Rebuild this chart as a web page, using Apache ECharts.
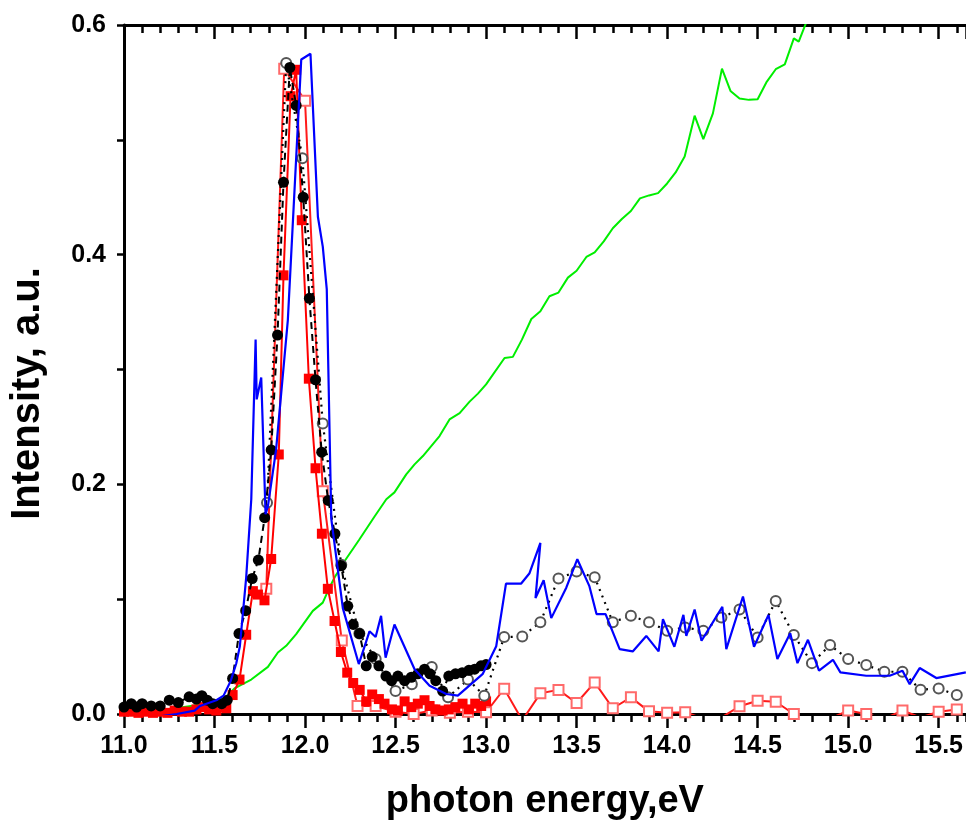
<!DOCTYPE html>
<html>
<head>
<meta charset="utf-8">
<script src="https://cdn.jsdelivr.net/npm/echarts@6/dist/echarts.min.js"></script>
<style>html,body{margin:0;padding:0;background:#fff}#c{width:966px;height:826px}</style>
</head>
<body>
<div id="c"></div>
<script>
// ---- data ----
const blackFilledX = [11.00,11.04,11.07,11.10,11.15,11.20,11.25,11.30,11.36,11.40,11.43,11.46,11.49,11.54,11.57,11.60,11.635,11.672,11.708,11.742,11.777,11.813,11.848,11.881,11.916,11.951,11.990,12.024,12.058,12.092,12.128,12.165,12.200,12.236,12.266,12.301,12.338,12.371,12.408,12.447,12.478,12.513,12.550,12.587,12.623,12.660,12.690,12.722,12.760,12.794,12.831,12.868,12.905,12.937,12.972,13.000];
const blackFilledY = [0.006,0.009,0.006,0.009,0.007,0.007,0.012,0.010,0.015,0.013,0.016,0.012,0.009,0.009,0.012,0.031,0.070,0.090,0.118,0.134,0.171,0.230,0.330,0.463,0.563,0.530,0.450,0.362,0.291,0.228,0.186,0.157,0.129,0.094,0.078,0.070,0.042,0.050,0.042,0.033,0.029,0.033,0.029,0.032,0.035,0.039,0.035,0.029,0.020,0.033,0.035,0.036,0.038,0.039,0.042,0.043];

const blackOpenX = [11.79,11.896,11.985,12.098,12.20,12.30,12.39,12.50,12.59,12.70,12.79,12.90,12.99,13.10,13.20,13.30,13.40,13.50,13.60,13.70,13.80,13.90,14.00,14.10,14.20,14.30,14.40,14.50,14.60,14.70,14.80,14.90,15.00,15.10,15.20,15.30,15.40,15.50,15.60];
const blackOpenY = [0.184,0.567,0.484,0.253,0.130,0.070,0.048,0.020,0.026,0.041,0.0145,0.030,0.016,0.067,0.0675,0.080,0.118,0.124,0.119,0.080,0.0855,0.080,0.0725,0.0754,0.0725,0.084,0.091,0.0667,0.0985,0.0687,0.0443,0.060,0.0478,0.0426,0.0368,0.0368,0.0211,0.0223,0.0165];

const redFilledX = [11.00,11.04,11.08,11.12,11.16,11.20,11.24,11.28,11.32,11.36,11.40,11.44,11.47,11.51,11.54,11.565,11.60,11.638,11.675,11.712,11.740,11.776,11.813,11.855,11.881,11.920,11.951,11.982,12.021,12.058,12.093,12.126,12.163,12.198,12.233,12.266,12.302,12.338,12.371,12.408,12.439,12.480,12.513,12.550,12.587,12.623,12.660,12.688,12.720,12.760,12.794,12.830,12.870,12.905,12.940,12.973,13.000];
const redFilledY = [0.002,0.002,0.001,0.002,0.001,0.002,0.001,0.003,0.002,0.002,0.004,0.006,0.004,0.003,0.006,0.005,0.0165,0.030,0.069,0.107,0.104,0.099,0.135,0.226,0.382,0.538,0.561,0.430,0.292,0.214,0.157,0.109,0.081,0.054,0.036,0.027,0.021,0.011,0.017,0.013,0.009,0.004,0.003,0.011,0.006,0.009,0.012,0.007,0.004,0.003,0.004,0.006,0.009,0.004,0.009,0.007,0.011];

const redOpenX = [11.786,11.885,12.00,12.098,12.203,12.29,12.39,12.50,12.60,12.70,12.80,12.90,13.00,13.10,13.20,13.30,13.40,13.50,13.60,13.70,13.80,13.90,14.00,14.10,14.20,14.30,14.40,14.50,14.60,14.70,14.80,14.90,15.00,15.10,15.20,15.30,15.40,15.50,15.60];
const redOpenY = [0.109,0.562,0.534,0.194,0.064,0.007,0.007,0.002,0.000,0.003,0.001,0.002,0.0015,0.022,-0.0055,0.018,0.021,0.0096,0.0275,0.005,0.0145,0.0023,0.001,0.0015,-0.004,-0.003,0.0067,0.0116,0.0107,0.000,-0.005,-0.004,0.003,0.000,-0.004,0.003,-0.003,0.002,0.004];

const blueX = [11.00,11.10,11.20,11.29,11.39,11.42,11.51,11.55,11.59,11.62,11.64,11.675,11.703,11.727,11.733,11.758,11.782,11.795,11.84,11.905,11.979,12.030,12.071,12.098,12.120,12.145,12.209,12.297,12.356,12.39,12.42,12.445,12.494,12.605,12.688,12.78,12.844,12.982,13.056,13.11,13.194,13.24,13.30,13.273,13.318,13.36,13.443,13.504,13.57,13.61,13.66,13.738,13.81,13.885,13.953,13.977,14.04,14.09,14.106,14.152,14.19,14.305,14.327,14.419,14.48,14.56,14.609,14.68,14.72,14.778,14.839,14.916,14.957,15.10,15.229,15.30,15.34,15.395,15.487,15.65];
const blueY = [-0.004,-0.003,-0.002,0.000,0.003,0.007,0.012,0.016,0.029,0.044,0.059,0.119,0.187,0.326,0.274,0.293,0.174,0.181,0.230,0.343,0.570,0.575,0.433,0.407,0.370,0.170,0.092,0.0435,0.072,0.067,0.0855,0.049,0.078,0.039,0.0246,0.0174,0.016,0.035,0.059,0.1136,0.1136,0.1226,0.149,0.101,0.1165,0.0835,0.110,0.1348,0.1116,0.087,0.087,0.0565,0.0545,0.068,0.0545,0.0826,0.0585,0.0863,0.068,0.091,0.0638,0.0933,0.0565,0.1023,0.0585,0.0863,0.0478,0.0704,0.0443,0.0646,0.0377,0.0472,0.0362,0.0333,0.0333,0.0377,0.026,0.040,0.0313,0.0362];

const greenX = [11.00,11.196,11.38,11.47,11.555,11.61,11.703,11.795,11.85,11.896,11.951,12.043,12.098,12.135,12.163,12.218,12.30,12.384,12.449,12.494,12.559,12.605,12.651,12.743,12.798,12.854,12.909,12.955,13.00,13.102,13.148,13.198,13.25,13.30,13.35,13.40,13.452,13.50,13.554,13.60,13.65,13.70,13.75,13.80,13.85,13.90,13.95,14.00,14.047,14.097,14.152,14.20,14.253,14.303,14.35,14.40,14.452,14.50,14.548,14.60,14.65,14.70,14.727,14.80];
const greenY = [0.000,0.003,0.0072,0.010,0.0136,0.0223,0.030,0.041,0.0536,0.0594,0.0696,0.0898,0.097,0.110,0.1189,0.133,0.152,0.172,0.187,0.193,0.2087,0.2174,0.2246,0.242,0.2565,0.262,0.272,0.279,0.287,0.310,0.311,0.326,0.344,0.3507,0.3638,0.367,0.380,0.386,0.398,0.402,0.4116,0.423,0.431,0.438,0.449,0.4516,0.4536,0.462,0.4716,0.4855,0.521,0.5006,0.523,0.562,0.5426,0.536,0.5348,0.5354,0.550,0.5615,0.5657,0.5884,0.5855,0.615];

const xTickLabels = ['11.0','11.5','12.0','12.5','13.0','13.5','14.0','14.5','15.0','15.5'];
const yTickLabels = ['0.0','0.2','0.4','0.6'];

function zip(xs, ys){ return xs.map((x,i)=>[x, ys[i]]); }

const FONT = '"Liberation Sans", Arial, sans-serif';
const chart = echarts.init(document.getElementById('c'), null, {renderer:'canvas'});

const baseX = {type:'value', min:11.0, max:15.65, gridIndex:0};
const option = {
  animation:false,
  backgroundColor:'#fff',
  grid:{left:124, right:0, top:25, bottom:111, containLabel:false},
  xAxis:[
    Object.assign({}, baseX, {
      position:'bottom', interval:0.5,
      axisLine:{show:true, onZero:false, lineStyle:{color:'#000', width:3}},
      axisTick:{show:true, inside:false, length:14, lineStyle:{color:'#000', width:2.5}},
      axisLabel:{show:true, margin:20, showMaxLabel:false, color:'#000', fontSize:25, fontWeight:'bold', fontFamily:FONT,
        formatter:function(v){ const s=v.toFixed(1); return xTickLabels.indexOf(s)>=0 ? s : ''; }},
      splitLine:{show:false},
      name:'photon energy,eV', nameLocation:'middle', nameGap:69,
      nameTextStyle:{color:'#000', fontSize:38, fontWeight:'bold', fontFamily:FONT}
    }),
    Object.assign({}, baseX, {
      position:'bottom', interval:0.1,
      axisLine:{show:false, onZero:false},
      axisTick:{show:true, inside:false, length:8, lineStyle:{color:'#000', width:2.5}},
      axisLabel:{show:false}, splitLine:{show:false}
    }),
    Object.assign({}, baseX, {
      position:'top', interval:0.5,
      axisLine:{show:true, onZero:false, lineStyle:{color:'#000', width:3}},
      axisTick:{show:true, inside:true, length:14, lineStyle:{color:'#000', width:2.5}},
      axisLabel:{show:false}, splitLine:{show:false}
    }),
    Object.assign({}, baseX, {
      position:'top', interval:0.1,
      axisLine:{show:false, onZero:false},
      axisTick:{show:true, inside:true, length:8, lineStyle:{color:'#000', width:2.5}},
      axisLabel:{show:false}, splitLine:{show:false}
    })
  ],
  yAxis:[{
    type:'value', min:0, max:0.6, interval:0.1,
    axisLine:{show:true, onZero:false, lineStyle:{color:'#000', width:3}},
    axisTick:{show:true, inside:false, length:7, lineStyle:{color:'#000', width:2.5}},
    axisLabel:{show:true, margin:18, color:'#000', fontSize:25, fontWeight:'bold', fontFamily:FONT,
      formatter:function(v){ const s=v.toFixed(1); return yTickLabels.indexOf(s)>=0 ? s : ''; }},
    splitLine:{show:false},
    name:'Intensity, a.u.', nameLocation:'middle', nameGap:76,
    nameTextStyle:{color:'#000', fontSize:40, fontWeight:'bold', fontFamily:FONT, padding:[0,48,0,0]}
  }],
  series:[
    {type:'line', name:'green', data:zip(greenX, greenY), showSymbol:false, symbol:'none', clip:true,
      lineStyle:{color:'#00ee00', width:2}, z:2},
    {type:'line', name:'redOpen', data:zip(redOpenX, redOpenY), symbol:'emptyRect', symbolSize:10, showAllSymbol:true, clip:true,
      itemStyle:{color:'#ff6a6a', borderColor:'#ff6a6a', borderWidth:1.5}, lineStyle:{color:'#ff1a1a', width:2}, z:3},
    {type:'line', name:'redFilled', data:zip(redFilledX, redFilledY), symbol:'rect', symbolSize:10, showAllSymbol:true, clip:true,
      itemStyle:{color:'#ff0000'}, lineStyle:{color:'#ff0000', width:2}, z:4},
    {type:'line', name:'blackOpen', data:zip(blackOpenX, blackOpenY), symbol:'emptyCircle', symbolSize:10, showAllSymbol:true, clip:true,
      itemStyle:{color:'#555', borderColor:'#555', borderWidth:1.3}, lineStyle:{color:'#000', width:2.2, type:[2,5]}, z:5},
    {type:'line', name:'blackFilled', data:zip(blackFilledX, blackFilledY), symbol:'circle', symbolSize:11, showAllSymbol:true, clip:true,
      itemStyle:{color:'#000'}, lineStyle:{color:'#000', width:2, type:[7,5]}, z:6},
    {type:'line', name:'blue', data:zip(blueX, blueY), showSymbol:false, symbol:'none', clip:true,
      lineStyle:{color:'#0000ff', width:2.2}, z:7}
  ]
};
chart.setOption(option);
</script>
</body>
</html>
